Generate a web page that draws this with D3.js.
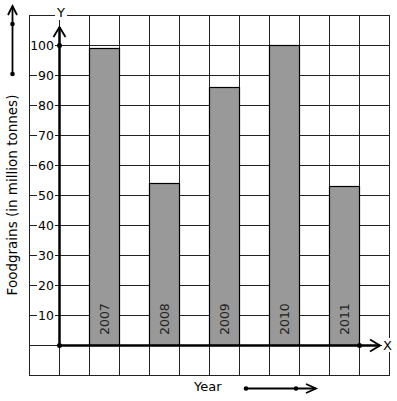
<!DOCTYPE html>
<html>
<head>
<meta charset="utf-8">
<script src="https://d3js.org/d3.v7.min.js"></script>
<style>
body { margin: 0; background: #fff; }
text { font-family: "DejaVu Sans", sans-serif; }
</style>
</head>
<body>
<script>
var years = ["2007", "2008", "2009", "2010", "2011"];
var values = [99, 54, 86, 100, 53];
var yTicks = [10, 20, 30, 40, 50, 60, 70, 80, 90, 100];

var width = 397, height = 401;
var cell = 30;
var gx0 = 29, gy0 = 15;

var svg = d3.select('body').append('svg')
    .attr('width', width)
    .attr('height', height);

// y value -> pixel; 10 units per cell, origin on row 11
var y = d3.scaleLinear().domain([0, 100]).range([345, 45]);
// every bar takes one column of a two-column slot
var x = d3.scaleBand().domain(years).range([89, 389]).paddingInner(0).paddingOuter(0);

// grid
var g = svg.append('g').attr('stroke', '#222').attr('stroke-width', 1);
d3.range(13).forEach(function (i) {
    g.append('line')
        .attr('x1', gx0 + i * cell + 0.5).attr('x2', gx0 + i * cell + 0.5)
        .attr('y1', gy0).attr('y2', gy0 + 12 * cell + 1);
    g.append('line')
        .attr('y1', gy0 + i * cell + 0.5).attr('y2', gy0 + i * cell + 0.5)
        .attr('x1', gx0).attr('x2', gx0 + 12 * cell + 1);
});

// bars
svg.selectAll('rect.bar')
    .data(values)
    .enter().append('rect')
    .attr('class', 'bar')
    .attr('x', function (d, i) { return x(years[i]) + 0.5; })
    .attr('y', function (d) { return y(d) + 0.5; })
    .attr('width', x.bandwidth() / 2)
    .attr('height', function (d) { return y(0) - y(d); })
    .attr('fill', '#999999')
    .attr('stroke', '#000')
    .attr('stroke-width', 1.2);

svg.selectAll('text.yr')
    .data(years)
    .enter().append('text')
    .attr('class', 'yr')
    .attr('transform', function (d) {
        return 'translate(' + (x(d) + x.bandwidth() / 4 + 5) + ',335) rotate(-90)';
    })
    .attr('font-size', 12.5)
    .attr('fill', '#222')
    .text(function (d) { return d; });

// y tick labels with white backing
yTicks.forEach(function (t) {
    var w = t === 100 ? 23 : 16;
    svg.append('rect')
        .attr('x', 54 - w - 1).attr('y', y(t) - 6)
        .attr('width', w + 2).attr('height', 12)
        .attr('fill', '#fff');
    svg.append('text')
        .attr('x', 54).attr('y', y(t) + 5)
        .attr('text-anchor', 'end')
        .attr('font-size', 12.5)
        .text(t);
});

// axes
var ax = svg.append('g').attr('stroke', '#000').attr('fill', 'none');
ax.append('line').attr('x1', 59.5).attr('x2', 59.5).attr('y1', 345.5).attr('y2', 27).attr('stroke-width', 2.5);
ax.append('line').attr('x1', 59.5).attr('x2', 380).attr('y1', 345.5).attr('y2', 345.5).attr('stroke-width', 2.5);
ax.append('path').attr('d', 'M53.5,37 L59.5,27 L65.5,37').attr('stroke-width', 1.8);
ax.append('path').attr('d', 'M370,339.5 L380,345.5 L370,351.5').attr('stroke-width', 1.8);
svg.append('circle').attr('cx', 59.5).attr('cy', y(100) + 0.5).attr('r', 2.5);
svg.append('circle').attr('cx', 59.5).attr('cy', 345.5).attr('r', 2.5);
svg.append('circle').attr('cx', 359.5).attr('cy', 345.5).attr('r', 2.5);

svg.append('rect').attr('x', 55).attr('y', 6).attr('width', 12).attr('height', 14).attr('fill', '#fff');
svg.append('text').attr('x', 61).attr('y', 17).attr('text-anchor', 'middle').attr('font-size', 13).text('Y');
svg.append('rect').attr('x', 382).attr('y', 338).attr('width', 11).attr('height', 14).attr('fill', '#fff');
svg.append('text').attr('x', 383).attr('y', 350).attr('font-size', 13).text('X');

// axis titles
svg.append('text')
    .attr('transform', 'translate(17,195) rotate(-90)')
    .attr('text-anchor', 'middle')
    .attr('font-size', 13.5)
    .text('Foodgrains (in million tonnes)');
svg.append('text').attr('x', 194).attr('y', 391).attr('font-size', 13).text('Year');

// little direction arrows
var ar = svg.append('g').attr('stroke', '#000').attr('fill', 'none').attr('stroke-width', 1.8);
ar.append('line').attr('x1', 12.5).attr('x2', 12.5).attr('y1', 74).attr('y2', 6);
ar.append('path').attr('d', 'M8,15 L12.5,6 L17,15');
svg.append('circle').attr('cx', 12.5).attr('cy', 24).attr('r', 2.3);
svg.append('circle').attr('cx', 12.5).attr('cy', 74).attr('r', 2.3);

ar.append('line').attr('x1', 246).attr('x2', 316).attr('y1', 388.5).attr('y2', 388.5);
ar.append('path').attr('d', 'M306,384 L316,388.5 L306,393');
svg.append('circle').attr('cx', 246).attr('cy', 388.5).attr('r', 2.3);
svg.append('circle').attr('cx', 296).attr('cy', 388.5).attr('r', 2.3);
</script>
</body>
</html>
